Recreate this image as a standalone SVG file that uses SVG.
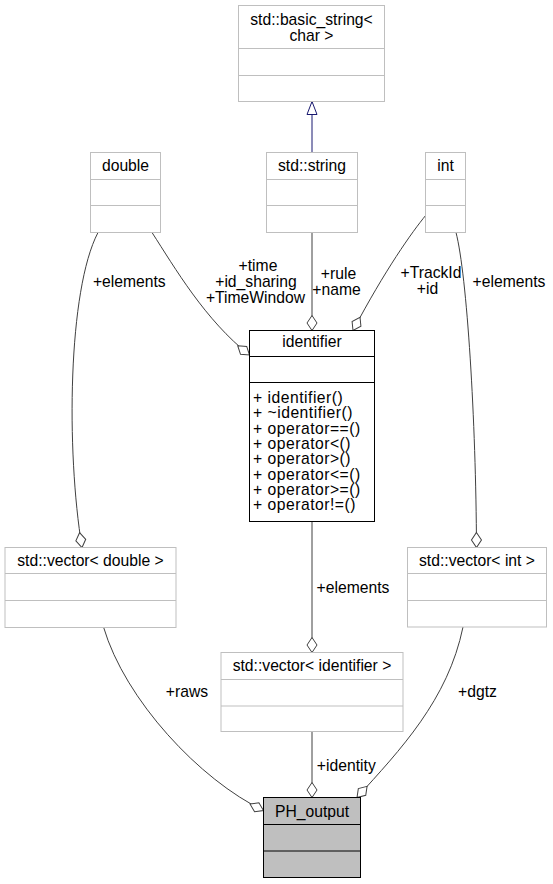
<svg xmlns="http://www.w3.org/2000/svg" width="553" height="884" viewBox="0 0 553 884">
<style>
text{font-family:"Liberation Sans",Arial,sans-serif;font-size:15.7px;fill:#000}
.c{text-anchor:middle}
.m{letter-spacing:0.5px}
.box{fill:#fff;stroke:#bfbfbf;stroke-width:1}
.sep{stroke:#bfbfbf;stroke-width:1}
.bbox{fill:#fff;stroke:#000;stroke-width:1}
.bsep{stroke:#000;stroke-width:1}
.edge{fill:none;stroke:#404040;stroke-width:1;marker-end:url(#dia)}
.inh{fill:none;stroke:#191970;stroke-width:1;marker-end:url(#tri)}
</style>
<defs>
<marker id="dia" markerUnits="userSpaceOnUse" markerWidth="18" markerHeight="12" refX="15.5" refY="5.5" orient="auto" overflow="visible">
<path d="M0.5,5.5 L8,0.5 L15.5,5.5 L8,10.5 Z" fill="#fff" stroke="#404040" stroke-width="1"/>
</marker>
<marker id="tri" markerUnits="userSpaceOnUse" markerWidth="16" markerHeight="12" refX="13.5" refY="5.5" orient="auto" overflow="visible">
<path d="M0.5,0.5 L13.5,5.5 L0.5,10.5 Z" fill="#fff" stroke="#191970" stroke-width="1"/>
</marker>
</defs>
<rect width="553" height="884" fill="#fff"/>

<g id="connectors">
<path class="inh" d="M312,152.5 L312,101.5"/>
<path class="edge" d="M152,232.5 C175,268 205,320 249.5,355"/>
<path class="edge" d="M312,232.5 L312,330.5"/>
<path class="edge" d="M426,215 C412,232 385,270 353,330.5"/>
<path class="edge" d="M98,232.5 C68,290 66,450 82,547.5"/>
<path class="edge" d="M456,232.5 C467,275 476,420 476.5,547.5"/>
<path class="edge" d="M312,521 L312,652.5"/>
<path class="edge" d="M103.5,627 C125,700 200,780 263.5,810.5"/>
<path class="edge" d="M312,731.5 L312,797.5"/>
<path class="edge" d="M463,627 C448,700 400,750 357,797.5"/>
<text class="c" x="129.3" y="286.7">+elements</text>
<text class="c" x="258" y="270.7">+time</text>
<text class="c" x="256" y="286.7">+id_sharing</text>
<text class="c" x="255.5" y="302.7">+TimeWindow</text>
<text class="c" x="338.5" y="278.5">+rule</text>
<text class="c" x="336.5" y="294.5">+name</text>
<text class="c" x="431" y="278">+TrackId</text>
<text class="c" x="427.5" y="294">+id</text>
<text class="c" x="509" y="286.7">+elements</text>
<text class="c" x="353" y="593">+elements</text>
<text class="c" x="187" y="697.3">+raws</text>
<text class="c" x="477.5" y="697.3">+dgtz</text>
<text class="c" x="346.3" y="770.5">+identity</text>
</g>

<g id="basic_string">
<rect class="box" x="238.5" y="5.5" width="146" height="96"/>
<line class="sep" x1="238.5" y1="48.5" x2="384.5" y2="48.5"/>
<line class="sep" x1="238.5" y1="75.5" x2="384.5" y2="75.5"/>
<text class="c" x="311.5" y="25">std::basic_string&lt;</text>
<text class="c" x="311.5" y="40.5">char &gt;</text>
</g>

<g id="std_string">
<rect class="box" x="266.5" y="152.5" width="91" height="80"/>
<line class="sep" x1="266.5" y1="179.5" x2="357.5" y2="179.5"/>
<line class="sep" x1="266.5" y1="205.5" x2="357.5" y2="205.5"/>
<text class="c" x="312" y="171">std::string</text>
</g>

<g id="double">
<rect class="box" x="90.5" y="152.5" width="70" height="80"/>
<line class="sep" x1="90.5" y1="179.5" x2="160.5" y2="179.5"/>
<line class="sep" x1="90.5" y1="205.5" x2="160.5" y2="205.5"/>
<text class="c" x="125.5" y="171">double</text>
</g>

<g id="int">
<rect class="box" x="425.5" y="152.5" width="40" height="80"/>
<line class="sep" x1="425.5" y1="179.5" x2="465.5" y2="179.5"/>
<line class="sep" x1="425.5" y1="205.5" x2="465.5" y2="205.5"/>
<text class="c" x="445.5" y="171">int</text>
</g>

<g id="identifier">
<rect class="bbox" x="249.5" y="330.5" width="125" height="191"/>
<line class="bsep" x1="249.5" y1="356.5" x2="374.5" y2="356.5"/>
<line class="bsep" x1="249.5" y1="382.5" x2="374.5" y2="382.5"/>
<text class="c" x="312" y="347">identifier</text>
<text class="m" x="253" y="403">+ identifier()</text>
<text class="m" x="253" y="418.3">+ ~identifier()</text>
<text class="m" x="253" y="433.6">+ operator==()</text>
<text class="m" x="253" y="448.9">+ operator&lt;()</text>
<text class="m" x="253" y="464.2">+ operator&gt;()</text>
<text class="m" x="253" y="479.5">+ operator&lt;=()</text>
<text class="m" x="253" y="494.8">+ operator&gt;=()</text>
<text class="m" x="253" y="510.1">+ operator!=()</text>
</g>

<g id="vector_double">
<rect class="box" x="5" y="547.5" width="171" height="80"/>
<line class="sep" x1="5" y1="573.5" x2="176" y2="573.5"/>
<line class="sep" x1="5" y1="600.5" x2="176" y2="600.5"/>
<text class="c" x="90.5" y="565.5">std::vector&lt; double &gt;</text>
</g>

<g id="vector_int">
<rect class="box" x="407.5" y="547.5" width="139" height="79.5"/>
<line class="sep" x1="407.5" y1="573.5" x2="546.5" y2="573.5"/>
<line class="sep" x1="407.5" y1="600.5" x2="546.5" y2="600.5"/>
<text class="c" x="477" y="565.5">std::vector&lt; int &gt;</text>
</g>

<g id="vector_identifier">
<rect class="box" x="221" y="652.5" width="182" height="79"/>
<line class="sep" x1="221" y1="679.5" x2="403" y2="679.5"/>
<line class="sep" x1="221" y1="706" x2="403" y2="706"/>
<text class="c" x="312" y="670.5">std::vector&lt; identifier &gt;</text>
</g>

<g id="PH_output">
<rect x="263.5" y="797.5" width="97" height="80" fill="#bfbfbf" stroke="#000"/>
<line class="bsep" x1="263.5" y1="824.5" x2="360.5" y2="824.5"/>
<line class="bsep" x1="263.5" y1="851" x2="360.5" y2="851"/>
<text class="c" x="312" y="816.5">PH_output</text>
</g>
</svg>
